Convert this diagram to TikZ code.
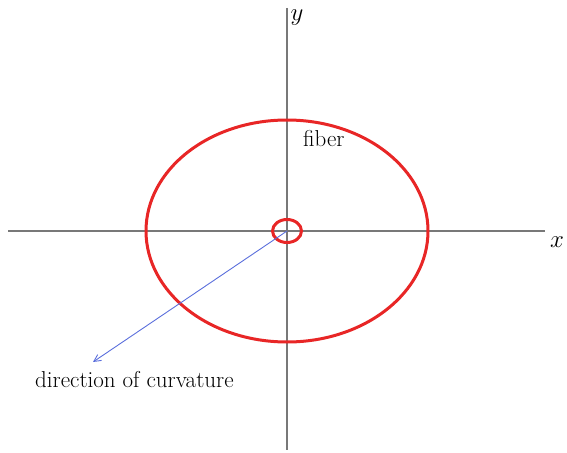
\documentclass[tikz,border=0pt]{standalone}
\usepackage{tikz}
\usetikzlibrary{calc,positioning,arrows.meta}
\definecolor{fibred}{RGB}{232,38,38}
\definecolor{curvblue}{RGB}{90,110,220}
\definecolor{axisgray}{RGB}{120,120,120}

\begin{document}
\begin{tikzpicture}[x=1pt, y=-1pt,
      axis/.style={axisgray, line width=1.3pt},
      fibre/.style={fibred, line width=3pt},
      curv/.style={-{Straight Barb[length=7pt, width=7pt]}, curvblue, line width=0.9pt},
      tlabel/.style={font=\fontsize{23}{27}\selectfont, inner sep=0pt},
    ]
    \useasboundingbox (0,0) rectangle (567,452);
    % axes
    \coordinate (o) at (287,231);
    \coordinate (xl) at (8,231);
    \coordinate (xr) at (545,231);
    \coordinate (yt) at (287,8);
    \coordinate (yb) at (287,450);
    \draw[axis] (xl) -- (xr);
    \draw[axis] (yt) -- (yb);
    \node[tlabel] (xlab) at (557,242) {$x$};
    \node[tlabel] (ylab) at (297,18) {$y$};
    % fibre and its core
    \draw[fibre] (o) ellipse [x radius=141, y radius=111];
    \draw[fibre] (o) ellipse [x radius=14.5, y radius=11.5];
    \node[tlabel, anchor=base west] (fib) at (303,146) {fiber};
    % curvature direction
    \coordinate (tip) at (93,362);
    \draw[curv] (o) -- (tip);
    \node[tlabel, anchor=base west] (dir) at (35,387) {direction of curvature};
  \end{tikzpicture}
\end{document}
